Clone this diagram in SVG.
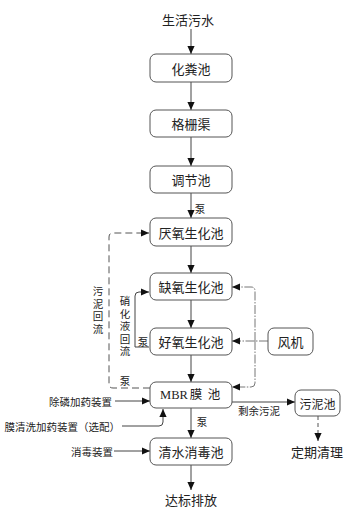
<svg xmlns="http://www.w3.org/2000/svg" width="359" height="511" viewBox="0 0 359 511">
<defs>
<marker id="ah" viewBox="0 0 10 10" refX="10" refY="5" markerWidth="8" markerHeight="8" markerUnits="userSpaceOnUse" orient="auto">
<path d="M0,0.5 L10,5 L0,9.5 z" fill="#111"/>
</marker>
<style>
.box{fill:#fff;stroke:#555;stroke-width:1}
.t{font-family:"Noto Sans CJK SC","Noto Sans",sans-serif;font-size:13px;fill:#222;text-anchor:middle;dominant-baseline:central}
.s{font-family:"Noto Sans CJK SC","Noto Sans",sans-serif;font-size:10.5px;fill:#222;dominant-baseline:central}
.v{font-family:"Noto Sans CJK SC","Noto Sans",sans-serif;font-size:10.5px;fill:#222;writing-mode:vertical-rl;letter-spacing:2px}
.ln{fill:none;stroke:#444;stroke-width:1}
.dsh{fill:none;stroke:#555;stroke-width:1;stroke-dasharray:7,4}
.dd{fill:none;stroke:#777;stroke-width:1;stroke-dasharray:9,1.5,1.5,1.5}
</style>
</defs>
<rect width="359" height="511" fill="#fff"/>

<g id="connectors">
<line class="ln" x1="191" y1="29" x2="191" y2="54" marker-end="url(#ah)"/>
<line class="ln" x1="191" y1="82" x2="191" y2="110" marker-end="url(#ah)"/>
<line class="ln" x1="191" y1="137" x2="191" y2="166" marker-end="url(#ah)"/>
<line class="ln" x1="191" y1="193" x2="191" y2="218" marker-end="url(#ah)"/>
<line class="ln" x1="191" y1="246" x2="191" y2="273" marker-end="url(#ah)"/>
<line class="ln" x1="191" y1="300" x2="191" y2="328" marker-end="url(#ah)"/>
<line class="ln" x1="191" y1="355" x2="191" y2="382" marker-end="url(#ah)"/>
<line class="ln" x1="191" y1="408" x2="191" y2="438" marker-end="url(#ah)"/>
<line class="ln" x1="191" y1="465" x2="191" y2="490" marker-end="url(#ah)"/>
<path class="dsh" d="M150,388 H113 Q109,388 109,384 V237 Q109,233 113,233 H149" marker-end="url(#ah)"/>
<path class="ln" d="M149,347 H135 V296 Q135,292 139,292 H149" marker-end="url(#ah)"/>
<path class="dd" d="M255,341 V291 Q255,287 251,287 H232" marker-end="url(#ah)"/>
<path class="dd" d="M255,341 V383 Q255,387 251,387 H232" marker-end="url(#ah)"/>
<line class="dd" x1="268" y1="341" x2="232" y2="341" marker-end="url(#ah)"/>
<line class="ln" x1="115" y1="401" x2="150" y2="401" marker-end="url(#ah)"/>
<path class="ln" d="M122,426 H159 Q163,426 163,422 V409" marker-end="url(#ah)"/>
<line class="ln" x1="114" y1="451" x2="150" y2="451" marker-end="url(#ah)"/>
<line class="ln" x1="232" y1="402" x2="295" y2="402" marker-end="url(#ah)"/>
<line class="dsh" x1="318" y1="416" x2="318" y2="441" marker-end="url(#ah)" style="stroke-dasharray:4,3"/>
</g>

<g id="n-water"><text class="t" x="188" y="19">生活污水</text></g>
<g id="n-hfc"><rect class="box" x="150" y="54" width="82" height="28" rx="6"/><text class="t" x="191" y="68">化粪池</text></g>
<g id="n-gsq"><rect class="box" x="150" y="110" width="82" height="27" rx="6"/><text class="t" x="191" y="123.5">格栅渠</text></g>
<g id="n-tjc"><rect class="box" x="150" y="166" width="82" height="27" rx="6"/><text class="t" x="191" y="179.5">调节池</text></g>
<g id="n-yy"><rect class="box" x="150" y="218" width="82" height="28" rx="6"/><text class="t" x="191" y="232">厌氧生化池</text></g>
<g id="n-qy"><rect class="box" x="150" y="273" width="82" height="27" rx="6"/><text class="t" x="191" y="286.5">缺氧生化池</text></g>
<g id="n-hy"><rect class="box" x="150" y="328" width="82" height="27" rx="6"/><text class="t" x="191" y="341.5">好氧生化池</text></g>
<g id="n-mbr"><rect class="box" x="150" y="382" width="82" height="26" rx="6"/><text class="t" y="395" style="font-size:12.5px;font-family:'Liberation Serif','Noto Sans CJK SC',serif"><tspan x="174">MBR</tspan><tspan x="196">膜</tspan><tspan x="214">池</tspan></text></g>
<g id="n-qs"><rect class="box" x="150" y="438" width="82" height="27" rx="6"/><text class="t" x="191" y="451.5">清水消毒池</text></g>
<g id="n-out"><text class="t" x="191" y="499">达标排放</text></g>
<g id="n-fj"><rect class="box" x="268" y="328" width="45" height="27" rx="6"/><text class="t" x="290.5" y="341.5">风机</text></g>
<g id="n-wnc"><rect class="box" x="295" y="390" width="45" height="26" rx="6"/><text class="t" x="317.5" y="403" style="font-size:12px">污泥池</text></g>
<g id="n-dq"><text class="t" x="317" y="451">定期清理</text></g>

<g id="labels">
<text class="s" x="200" y="208" text-anchor="middle">泵</text>
<text class="s" x="202" y="421" text-anchor="middle">泵</text>
<text class="s" x="125" y="380" text-anchor="middle">泵</text>
<text class="s" x="143" y="341" text-anchor="middle">泵</text>
<text class="v" x="98" y="286">污泥回流</text>
<text class="v" x="125" y="296">硝化液回流</text>
<text class="s" x="112" y="401" text-anchor="end">除磷加药装置</text>
<text class="s" x="120" y="426" text-anchor="end">膜清洗加药装置（选配）</text>
<text class="s" x="113" y="451" text-anchor="end">消毒装置</text>
<text class="s" x="259" y="410" text-anchor="middle">剩余污泥</text>
</g>
</svg>
